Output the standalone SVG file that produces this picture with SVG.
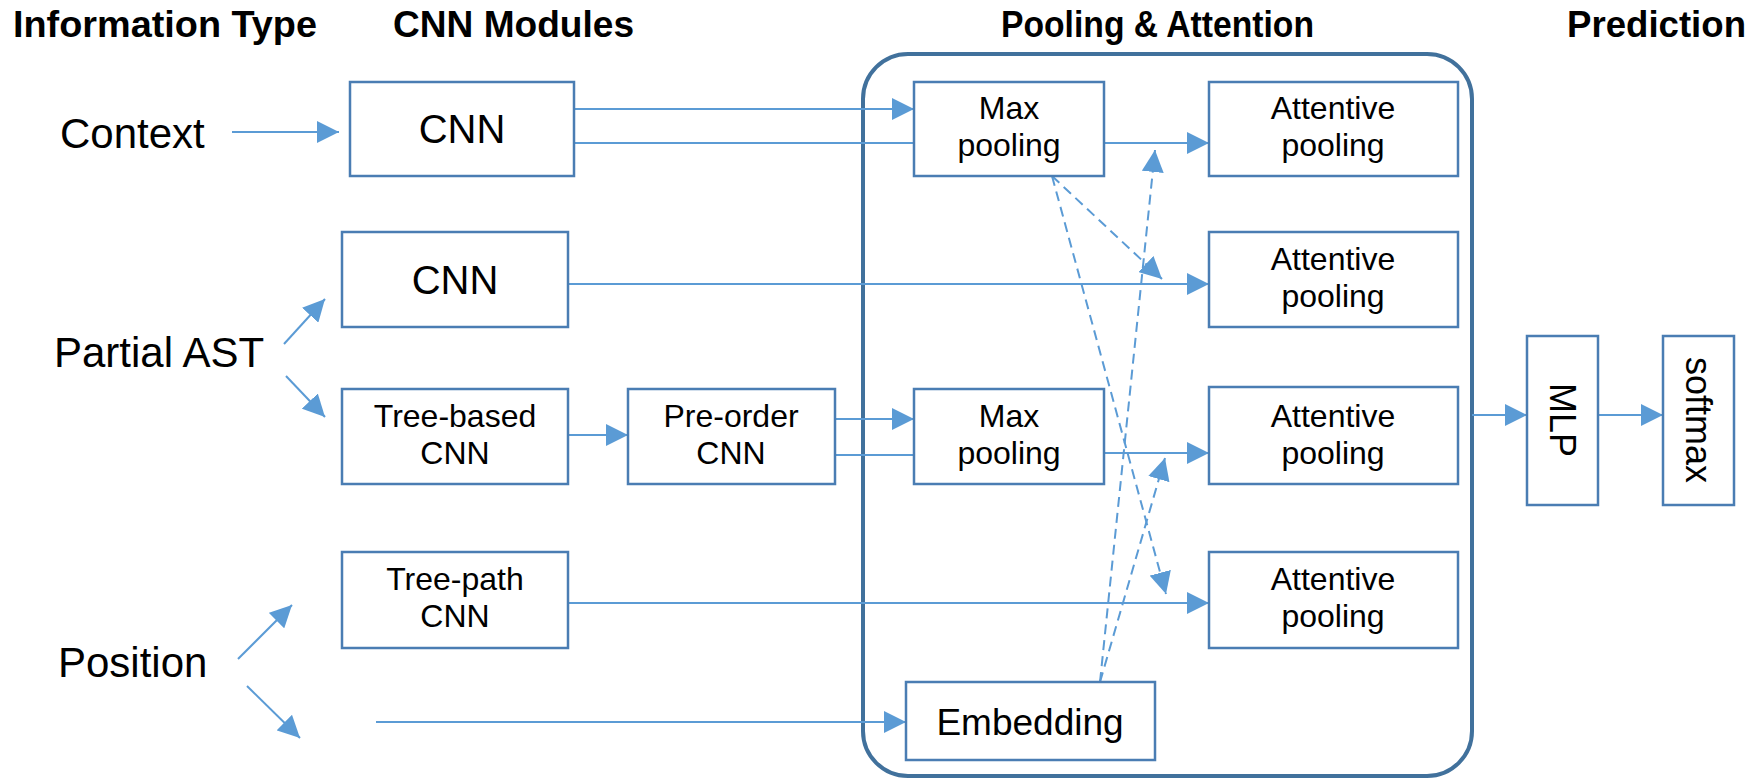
<svg xmlns="http://www.w3.org/2000/svg" width="1758" height="781" viewBox="0 0 1758 781">
<defs>
<style>
.title{font-family:"Liberation Sans",Arial,sans-serif;font-weight:bold;font-size:37px;fill:#000}
.lbl{font-family:"Liberation Sans",Arial,sans-serif;font-size:42px;fill:#000}
.bt{font-family:"Liberation Sans",Arial,sans-serif;font-size:32px;fill:#000;text-anchor:middle}
.bx{fill:#fff;stroke:#4a7db3;stroke-width:2.5}
.ln{stroke:#5b9bd5;stroke-width:2;fill:none}
.dl{stroke:#5b9bd5;stroke-width:2;fill:none;stroke-dasharray:10 6}
</style>
<marker id="ahb" viewBox="0 0 10 10" refX="10" refY="5" markerWidth="22" markerHeight="22" markerUnits="userSpaceOnUse" orient="auto">
<path d="M0,0 L10,5 L0,10 z" fill="#5b9bd5"/>
</marker>
</defs>
<rect width="1758" height="781" fill="#fff"/>
<g id="titles">
<text class="title" x="13" y="37" textLength="304" lengthAdjust="spacingAndGlyphs">Information Type</text>
<text class="title" x="393" y="37" textLength="241" lengthAdjust="spacingAndGlyphs">CNN Modules</text>
<text class="title" x="1001" y="37" textLength="313" lengthAdjust="spacingAndGlyphs">Pooling &amp; Attention</text>
<text class="title" x="1567" y="37" textLength="179" lengthAdjust="spacingAndGlyphs">Prediction</text>
</g>
<g id="labels">
<text class="lbl" x="60" y="148">Context</text>
<text class="lbl" x="54" y="367">Partial AST</text>
<text class="lbl" x="58" y="677">Position</text>
</g>
<g id="container"><rect x="863" y="54" width="609" height="722" rx="45" fill="none" stroke="#41719c" stroke-width="4"/></g>
<g id="connectors">
<line class="ln" x1="232" y1="132" x2="339" y2="132" marker-end="url(#ahb)"/>
<line class="ln" x1="574" y1="109" x2="914" y2="109" marker-end="url(#ahb)"/>
<line class="ln" x1="574" y1="143" x2="914" y2="143"/>
<line class="ln" x1="1104" y1="143" x2="1209" y2="143" marker-end="url(#ahb)"/>
<line class="ln" x1="568" y1="284" x2="1209" y2="284" marker-end="url(#ahb)"/>
<line class="ln" x1="284" y1="344" x2="325" y2="299" marker-end="url(#ahb)"/>
<line class="ln" x1="286" y1="376" x2="325" y2="417" marker-end="url(#ahb)"/>
<line class="ln" x1="568" y1="435" x2="628" y2="435" marker-end="url(#ahb)"/>
<line class="ln" x1="835" y1="419" x2="914" y2="419" marker-end="url(#ahb)"/>
<line class="ln" x1="835" y1="455" x2="914" y2="455"/>
<line class="ln" x1="1104" y1="453" x2="1209" y2="453" marker-end="url(#ahb)"/>
<line class="ln" x1="568" y1="603" x2="1209" y2="603" marker-end="url(#ahb)"/>
<line class="ln" x1="238" y1="659" x2="292" y2="605" marker-end="url(#ahb)"/>
<line class="ln" x1="247" y1="686" x2="300" y2="738" marker-end="url(#ahb)"/>
<line class="ln" x1="376" y1="722" x2="906" y2="722" marker-end="url(#ahb)"/>
<line class="ln" x1="1472" y1="415" x2="1527" y2="415" marker-end="url(#ahb)"/>
<line class="ln" x1="1598" y1="415" x2="1663" y2="415" marker-end="url(#ahb)"/>
<line class="dl" x1="1052" y1="176" x2="1162" y2="279" marker-end="url(#ahb)"/>
<line class="dl" x1="1052" y1="176" x2="1166" y2="594" marker-end="url(#ahb)"/>
<line class="dl" x1="1100" y1="682" x2="1155" y2="150" marker-end="url(#ahb)"/>
<line class="dl" x1="1100" y1="682" x2="1165" y2="458" marker-end="url(#ahb)"/>
</g>
<g id="cnn1"><rect class="bx" x="350" y="82" width="224" height="94"/><text class="bt" x="462" y="143" style="font-size:40px">CNN</text></g>
<g id="maxpool1"><rect class="bx" x="914" y="82" width="190" height="94"/><text class="bt" x="1009" y="119">Max<tspan x="1009" dy="37">pooling</tspan></text></g>
<g id="att1"><rect class="bx" x="1209" y="82" width="249" height="94"/><text class="bt" x="1333" y="119">Attentive<tspan x="1333" dy="37">pooling</tspan></text></g>
<g id="cnn2"><rect class="bx" x="342" y="232" width="226" height="95"/><text class="bt" x="455" y="294" style="font-size:40px">CNN</text></g>
<g id="att2"><rect class="bx" x="1209" y="232" width="249" height="95"/><text class="bt" x="1333" y="270">Attentive<tspan x="1333" dy="37">pooling</tspan></text></g>
<g id="treebased"><rect class="bx" x="342" y="389" width="226" height="95"/><text class="bt" x="455" y="427">Tree-based<tspan x="455" dy="37">CNN</tspan></text></g>
<g id="preorder"><rect class="bx" x="628" y="389" width="207" height="95"/><text class="bt" x="731" y="427">Pre-order<tspan x="731" dy="37">CNN</tspan></text></g>
<g id="maxpool2"><rect class="bx" x="914" y="389" width="190" height="95"/><text class="bt" x="1009" y="427">Max<tspan x="1009" dy="37">pooling</tspan></text></g>
<g id="att3"><rect class="bx" x="1209" y="387" width="249" height="97"/><text class="bt" x="1333" y="427">Attentive<tspan x="1333" dy="37">pooling</tspan></text></g>
<g id="treepath"><rect class="bx" x="342" y="552" width="226" height="96"/><text class="bt" x="455" y="590">Tree-path<tspan x="455" dy="37">CNN</tspan></text></g>
<g id="att4"><rect class="bx" x="1209" y="552" width="249" height="96"/><text class="bt" x="1333" y="590">Attentive<tspan x="1333" dy="37">pooling</tspan></text></g>
<g id="embedding"><rect class="bx" x="906" y="682" width="249" height="78"/><text class="bt" x="1030" y="735" style="font-size:37px">Embedding</text></g>
<g id="mlp"><rect class="bx" x="1527" y="336" width="71" height="169"/><text class="bt" transform="translate(1562,420) rotate(90)" y="12" style="font-size:36px">MLP</text></g>
<g id="softmax"><rect class="bx" x="1663" y="336" width="71" height="169"/><text class="bt" transform="translate(1698,420) rotate(90)" y="12" style="font-size:36px">softmax</text></g>
</svg>
